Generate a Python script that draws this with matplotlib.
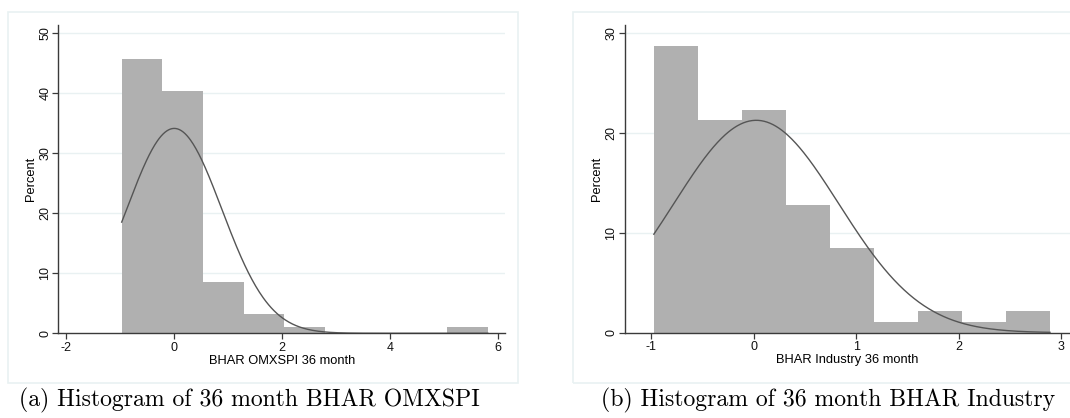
import numpy as np
import matplotlib
matplotlib.use("Agg")
import matplotlib.pyplot as plt
from matplotlib.patches import Rectangle

plt.rcParams['font.family'] = ['Liberation Sans', 'DejaVu Sans']
plt.rcParams['axes.unicode_minus'] = False

# BHAR OMXSPI 36 month: histogram (percent of 94 firms) + normal overlay
omx_start = -0.963
omx_width = 0.7535
omx_pct = [45.74, 40.43, 8.51, 3.19, 1.06, 0.0, 0.0, 0.0, 1.06]
omx_mean, omx_sd = 0.01, 0.88
omx_xticks = [-2, 0, 2, 4, 6]
omx_yticks = [0, 10, 20, 30, 40, 50]

# BHAR Industry 36 month
ind_start = -0.972
ind_width = 0.429
ind_pct = [28.72, 21.28, 22.34, 12.77, 8.51, 1.06, 2.13, 1.06, 2.13]
ind_mean, ind_sd = 0.026, 0.805
ind_xticks = [-1, 0, 1, 2, 3]
ind_yticks = [0, 10, 20, 30]

bar_col = '#b0b0b0'
line_col = '#555555'
grid_col = '#e9f1f2'
axis_col = '#3a3a3a'

fig = plt.figure(figsize=(10.7, 4.18), dpi=100)
W, H = 1070, 418

# light outer frames around each graph
for x0 in (8, 573):
    fig.patches.append(Rectangle((x0 / W, 1 - 383 / H), 510 / W, 371 / H,
                                 transform=fig.transFigure, fill=False,
                                 edgecolor=grid_col, lw=1.2))


def panel(rect, start, width, pct, mean, sd, xticks, yticks, xlim, ylim, xlabel):
    ax = fig.add_axes(rect)
    n = len(pct)
    lefts = start + width * np.arange(n)
    ax.bar(lefts, pct, width=width, align='edge', color=bar_col, linewidth=0, zorder=2)
    # normal density scaled to percent per bin
    xs = np.linspace(start, start + n * width, 400)
    ys = 100 * width * np.exp(-0.5 * ((xs - mean) / sd) ** 2) / (sd * np.sqrt(2 * np.pi))
    ax.plot(xs, ys, color=line_col, lw=1.0, zorder=3)
    ax.set_xlim(*xlim)
    ax.set_ylim(*ylim)
    ax.set_xticks(xticks)
    ax.set_yticks(yticks)
    ax.set_yticklabels([str(t) for t in yticks], rotation=90, va='center')
    for t in yticks[1:]:
        ax.axhline(t, color=grid_col, lw=1.0, zorder=1)
    for s in ('top', 'right'):
        ax.spines[s].set_visible(False)
    for s in ('left', 'bottom'):
        ax.spines[s].set_color(axis_col)
        ax.spines[s].set_linewidth(1.0)
    ax.tick_params(colors=axis_col, labelcolor='#111111', labelsize=9,
                   length=4, width=0.9, pad=2)
    ax.tick_params(axis='y', pad=1)
    ax.set_ylabel('Percent', fontsize=9.3, labelpad=2)
    ax.set_xlabel(xlabel, fontsize=9.3, labelpad=1)
    ax.patch.set_alpha(0)
    return ax


panel([58.3 / W, 1 - 333.3 / H, (505 - 58.3) / W, (333.3 - 25) / H],
      omx_start, omx_width, omx_pct, omx_mean, omx_sd,
      omx_xticks, omx_yticks, (-2.137, 6.135), (0, 51.4), 'BHAR OMXSPI 36 month')
panel([624.5 / W, 1 - 332.7 / H, (1070 - 624.5) / W, (332.7 - 25) / H],
      ind_start, ind_width, ind_pct, ind_mean, ind_sd,
      ind_xticks, ind_yticks, (-1.258, 3.084), (0, 30.8), 'BHAR Industry 36 month')

fig.text(249 / W, 1 - 400 / H, '(a) Histogram of 36 month BHAR OMXSPI',
         family='cmr10', fontsize=17.1, ha='center', va='center')
fig.text(828 / W, 1 - 400 / H, '(b) Histogram of 36 month BHAR Industry',
         family='cmr10', fontsize=17.1, ha='center', va='center')

fig.savefig('out.png', dpi=100)
